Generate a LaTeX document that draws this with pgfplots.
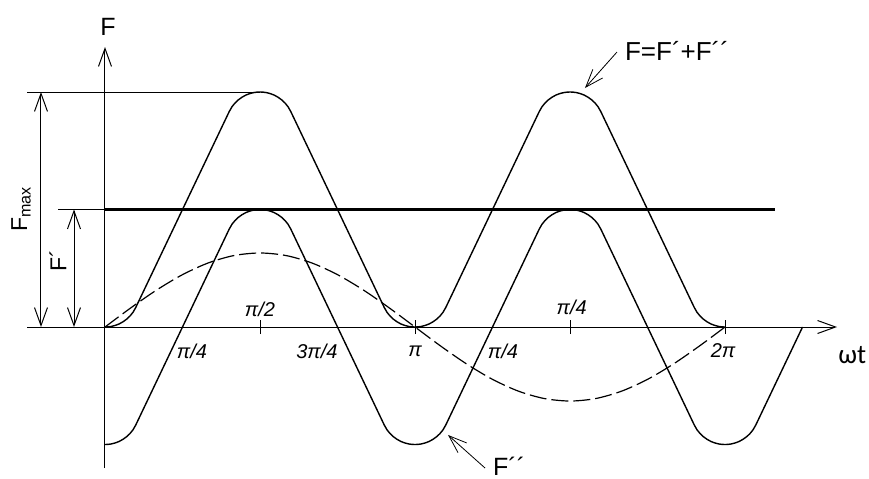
\documentclass[border=0pt]{standalone}
\usepackage{fontspec}
\setmainfont{Liberation Sans}
\newfontfamily\calfont{Carlito}
\usepackage{pgfplots}
\pgfplotsset{compat=1.18}
\usetikzlibrary{arrows.meta}
\newcommand\ac{{\char"00B4\relax}}

% F'' : rounded trapezoidal wave, period pi
\pgfplotstableread{
x y
0.0000 -1.0000
0.0304 -0.9989
0.0608 -0.9955
0.1013 -0.9872
0.1419 -0.9745
0.1824 -0.9557
0.2229 -0.9311
0.2533 -0.9064
0.2837 -0.8749
0.3121 -0.8332
1.2587 0.8332
1.2871 0.8749
1.3175 0.9064
1.3479 0.9311
1.3884 0.9557
1.4289 0.9745
1.4695 0.9872
1.5100 0.9955
1.5404 0.9989
1.5708 1.0000
1.6012 0.9989
1.6316 0.9955
1.6721 0.9872
1.7127 0.9745
1.7532 0.9557
1.7937 0.9311
1.8241 0.9064
1.8545 0.8749
1.8829 0.8332
2.8295 -0.8332
2.8579 -0.8749
2.8883 -0.9064
2.9187 -0.9311
2.9592 -0.9557
2.9997 -0.9745
3.0403 -0.9872
3.0808 -0.9955
3.1112 -0.9989
3.1416 -1.0000
3.1720 -0.9989
3.2024 -0.9955
3.2429 -0.9872
3.2835 -0.9745
3.3240 -0.9557
3.3645 -0.9311
3.3949 -0.9064
3.4253 -0.8749
3.4537 -0.8332
4.4003 0.8332
4.4287 0.8749
4.4591 0.9064
4.4895 0.9311
4.5300 0.9557
4.5705 0.9745
4.6111 0.9872
4.6516 0.9955
4.6820 0.9989
4.7124 1.0000
4.7428 0.9989
4.7732 0.9955
4.8137 0.9872
4.8543 0.9745
4.8948 0.9557
4.9353 0.9311
4.9657 0.9064
4.9961 0.8749
5.0245 0.8332
5.9711 -0.8332
5.9995 -0.8749
6.0299 -0.9064
6.0603 -0.9311
6.1008 -0.9557
6.1413 -0.9745
6.1819 -0.9872
6.2224 -0.9955
6.2528 -0.9989
6.2832 -1.0000
6.3136 -0.9989
6.3440 -0.9955
6.3845 -0.9872
6.4251 -0.9745
6.4656 -0.9557
6.5061 -0.9311
6.5365 -0.9064
6.5669 -0.8749
6.5953 -0.8332
7.0686 0.0000
}\fpp

% F = F' + F''
\pgfplotstableread{
x y
0.0000 0.0000
0.0304 0.0011
0.0608 0.0045
0.1013 0.0128
0.1419 0.0255
0.1824 0.0443
0.2229 0.0689
0.2533 0.0936
0.2837 0.1251
0.3121 0.1668
1.2587 1.8332
1.2871 1.8749
1.3175 1.9064
1.3479 1.9311
1.3884 1.9557
1.4289 1.9745
1.4695 1.9872
1.5100 1.9955
1.5404 1.9989
1.5708 2.0000
1.6012 1.9989
1.6316 1.9955
1.6721 1.9872
1.7127 1.9745
1.7532 1.9557
1.7937 1.9311
1.8241 1.9064
1.8545 1.8749
1.8829 1.8332
2.8295 0.1668
2.8579 0.1251
2.8883 0.0936
2.9187 0.0689
2.9592 0.0443
2.9997 0.0255
3.0403 0.0128
3.0808 0.0045
3.1112 0.0011
3.1416 0.0000
3.1720 0.0011
3.2024 0.0045
3.2429 0.0128
3.2835 0.0255
3.3240 0.0443
3.3645 0.0689
3.3949 0.0936
3.4253 0.1251
3.4537 0.1668
4.4003 1.8332
4.4287 1.8749
4.4591 1.9064
4.4895 1.9311
4.5300 1.9557
4.5705 1.9745
4.6111 1.9872
4.6516 1.9955
4.6820 1.9989
4.7124 2.0000
4.7428 1.9989
4.7732 1.9955
4.8137 1.9872
4.8543 1.9745
4.8948 1.9557
4.9353 1.9311
4.9657 1.9064
4.9961 1.8749
5.0245 1.8332
5.9711 0.1668
5.9995 0.1251
6.0299 0.0936
6.0603 0.0689
6.1008 0.0443
6.1413 0.0255
6.1819 0.0128
6.2224 0.0045
6.2528 0.0011
6.2832 0.0000
}\fsum

% dashed first harmonic
\pgfplotstableread{
x y
0.0000 0.0000
0.2618 0.1631
0.5236 0.3150
0.7854 0.4455
1.0472 0.5456
1.3090 0.6085
1.5708 0.6300
1.8326 0.6085
2.0944 0.5456
2.3562 0.4455
2.6180 0.3150
2.8798 0.1631
3.1416 0.0000
3.4034 -0.1631
3.6652 -0.3150
3.9270 -0.4455
4.1888 -0.5456
4.4506 -0.6085
4.7124 -0.6300
4.9742 -0.6085
5.2360 -0.5456
5.4978 -0.4455
5.7596 -0.3150
6.0214 -0.1631
6.2832 0.0000
}\fone

\begin{document}
\begin{tikzpicture}
\begin{axis}[
  at={(0,0)}, anchor=south west,
  scale only axis, width=434.5pt, height=239pt,
  xmin=-1.064, xmax=7.742, ymin=-1.285, ymax=2.783,
  hide axis, clip=false,
]
  \tikzset{barb/.style={-{Straight Barb[length=9pt,width=6.5pt]}, line width=0.5pt},
           dim/.style={{Straight Barb[length=9pt,width=6.5pt]}-{Straight Barb[length=9pt,width=6.5pt]}, line width=0.5pt}}
  % axes
  \draw[barb] (axis cs:-0.79,0) -- (axis cs:7.418,0);
  \draw[barb] (axis cs:0,-1.2) -- (axis cs:0,2.383);
  % extension and dimension lines
  \draw[line width=0.5pt] (axis cs:-0.79,2) -- (axis cs:1.5708,2);
  \draw[line width=0.5pt] (axis cs:-0.476,1) -- (axis cs:0,1);
  \draw[dim] (axis cs:-0.6486,2) -- (axis cs:-0.6486,0);
  \draw[dim] (axis cs:-0.3141,1) -- (axis cs:-0.3141,0);
  % ticks on the time axis
  \draw[line width=0.5pt] (axis cs:1.5708,-0.06) -- (axis cs:1.5708,0.06);
  \draw[line width=0.5pt] (axis cs:3.1416,-0.06) -- (axis cs:3.1416,0.06);
  \draw[line width=0.5pt] (axis cs:4.7124,-0.06) -- (axis cs:4.7124,0.06);
  \draw[line width=0.5pt] (axis cs:6.2832,-0.06) -- (axis cs:6.2832,0.06);

  \addplot[line width=1.3pt] coordinates {(0,1) (6.79,1)};
  \addplot[line width=0.7pt] table {\fsum};
  \addplot[line width=0.7pt] table {\fpp};
  \addplot[line width=0.6pt, smooth, dash pattern=on 8.5pt off 2.5pt] table {\fone};

  % labels
  \node[font=\fontsize{12.5}{14}\selectfont] at (axis cs:0.03,2.553) {F};
  \node[font=\fontsize{13}{15}\selectfont] at (axis cs:5.797,2.349) {F=F\ac+F\ac\ac};
  \draw[barb, line width=0.4pt] (axis cs:5.188,2.340) -- (axis cs:4.864,2.034);
  \node[font=\fontsize{12.5}{14}\selectfont, anchor=north west, inner sep=0pt] at (axis cs:3.93,-1.105) {F\ac\ac};
  \draw[barb, line width=0.4pt] (axis cs:3.851,-1.200) -- (axis cs:3.476,-0.919);
  \node[font=\fontsize{11.5}{13}\selectfont, rotate=90] at (axis cs:-0.851,1.004) {F\textsubscript{max}};
  \node[font=\fontsize{11.5}{13}\selectfont, rotate=90] at (axis cs:-0.476,0.562) {F\ac};
  \node[font=\calfont\fontsize{13.5}{15}\selectfont, anchor=west, inner sep=0pt] at (axis cs:7.428,-0.238) {ωt};

  \begin{scope}[every node/.style={font=\itshape\fontsize{10}{12}\selectfont}]
    \node at (axis cs:1.5708,0.150) {π/2};
    \node at (axis cs:4.73,0.170) {π/4};
    \node at (axis cs:0.882,-0.205) {π/4};
    \node at (axis cs:2.148,-0.205) {3π/4};
    \node at (axis cs:3.1416,-0.205) {π};
    \node at (axis cs:4.033,-0.205) {π/4};
    \node at (axis cs:6.263,-0.205) {2π};
  \end{scope}
\end{axis}
\pgfresetboundingbox
\path (0,0) rectangle (434.5pt,239pt);
\end{tikzpicture}
\end{document}
